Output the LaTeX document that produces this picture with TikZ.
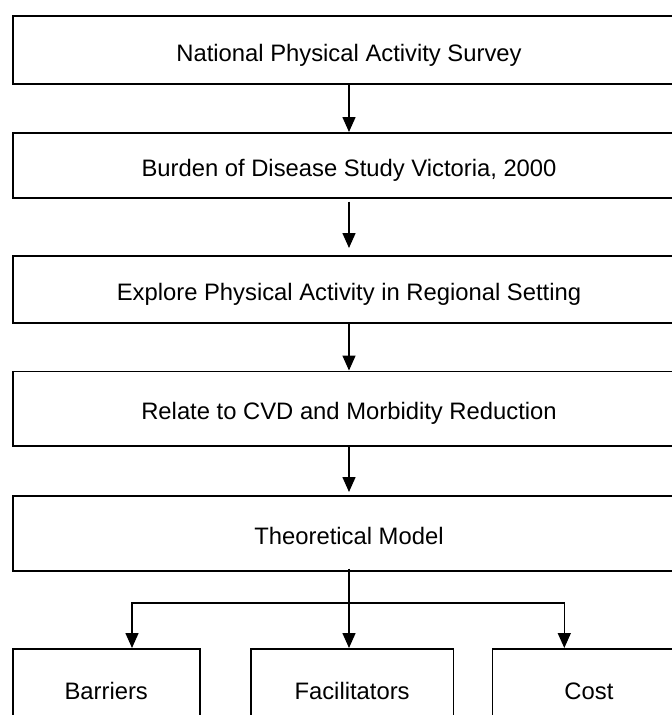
\documentclass[tikz,border=0pt]{standalone}
\usepackage{fontspec}
\setmainfont{Liberation Sans}
\usetikzlibrary{arrows.meta}
\begin{document}
\begin{tikzpicture}[x=1pt,y=-1pt,
  box/.style={draw, line width=1.5pt, rectangle, inner sep=0pt,
    text height=22.6pt, text depth=0pt,
    font=\fontsize{23.8}{28}\selectfont, anchor=north west},
  wide/.style={box, minimum width=672.5pt},
  low/.style={box, minimum height=78pt},
  arr/.style={line width=1.5pt, -{Triangle[length=15pt,width=13pt]}},
]
\useasboundingbox (0,0) rectangle (672,715);
\clip (0,0) rectangle (672,715);
\node[wide, minimum height=68pt] (b1) at (12,15) {National Physical Activity Survey};
\node[wide, minimum height=65pt] (b2) at (12,132) {Burden of Disease Study Victoria, 2000};
\node[wide, minimum height=67pt] (b3) at (12,255) {Explore Physical Activity in Regional Setting};
\node[wide, minimum height=74.5pt] (b4) at (12,370.5) {Relate to CVD and Morbidity Reduction};
\node[wide, minimum height=75pt] (b5) at (12,495) {Theoretical Model};
\node[low, minimum width=187pt] (bar) at (12,648) {Barriers};
\node[low, minimum width=202.7pt] (fac) at (250,648) {Facilitators};
\node[low, minimum width=193pt] (cost) at (491.7,648) {Cost};
\draw[arr] (b1.south) -- (b2.north);
\draw[arr] ([yshift=-3pt]b2.south) -- ([yshift=7pt]b3.north);
\draw[arr] (b3.south) -- (b4.north);
\draw[arr] (b4.south) -- ([yshift=3pt]b5.north);
\draw[arr] ([yshift=3pt]b5.south) -- (b5.south |- fac.north);
\coordinate (split) at (348.25,603);
\coordinate (tl) at (132,648);
\coordinate (tr) at (564.3,648);
\draw[arr] (split) -| (tl);
\draw[arr] (split) -| (tr);
\end{tikzpicture}
\end{document}
